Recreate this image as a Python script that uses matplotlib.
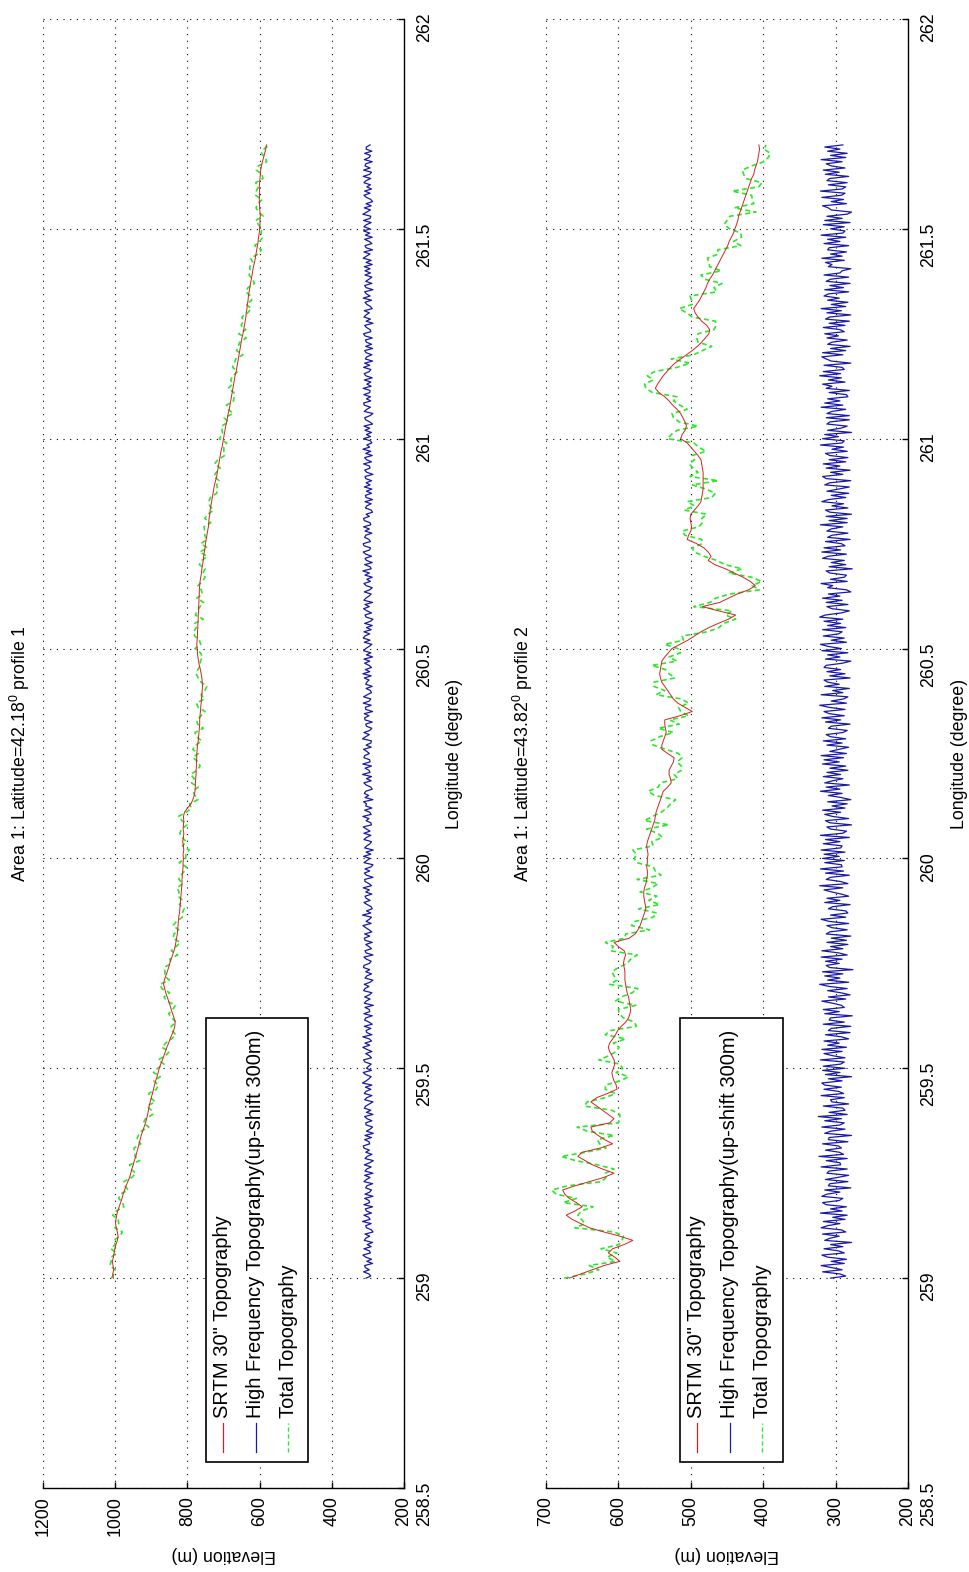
import numpy as np
import matplotlib
matplotlib.use('Agg')
import matplotlib.pyplot as plt
from matplotlib.patches import Rectangle
from matplotlib.lines import Line2D

plt.rcParams['font.family'] = ['Liberation Sans', 'DejaVu Sans']
plt.rcParams['mathtext.fontset'] = 'custom'
plt.rcParams['mathtext.rm'] = 'Liberation Sans'
plt.rcParams['mathtext.default'] = 'regular'

# longitude of the SRTM samples (0.01 deg) and of the high frequency samples (0.005 deg)
lon = np.linspace(259.0, 261.7, 271)
lon_hf = np.linspace(259.0, 261.7, 541)

# profile 1 : SRTM 30" elevation (m)
srtm1 = [1005, 1007, 1004, 1006, 1008, 1005, 1003, 1001, 998, 994,
         992, 994, 997, 999, 998, 996, 993, 989, 985, 981,
         978, 974, 970, 965, 960, 957, 954, 950, 947, 943,
         940, 937, 934, 931, 928, 924, 920, 916, 913, 910,
         908, 906, 903, 900, 897, 894, 891, 888, 884, 881,
         878, 874, 869, 865, 861, 857, 852, 848, 843, 838,
         835, 834, 837, 841, 845, 848, 852, 856, 860, 863,
         866, 864, 860, 856, 852, 849, 845, 841, 837, 834,
         832, 830, 828, 827, 826, 825, 824, 822, 821, 820,
         819, 818, 817, 816, 815, 815, 814, 813, 812, 812,
         811, 812, 810, 811, 813, 811, 810, 812, 811, 810,
         811, 808, 800, 790, 785, 781, 779, 778, 778, 777,
         776, 776, 775, 775, 774, 774, 773, 772, 770, 769,
         768, 767, 766, 766, 765, 764, 763, 762, 761, 760,
         759, 758, 759, 760, 762, 764, 767, 769, 771, 772,
         773, 774, 773, 772, 772, 771, 771, 770, 770, 769,
         769, 768, 768, 767, 767, 766, 765, 763, 761, 760,
         758, 756, 755, 753, 751, 750, 748, 746, 744, 742,
         741, 740, 738, 737, 735, 733, 731, 729, 727, 725,
         722, 719, 717, 715, 713, 711, 709, 707, 704, 702,
         700, 698, 696, 694, 691, 689, 687, 684, 682, 680,
         678, 676, 674, 672, 670, 668, 665, 663, 661, 659,
         657, 655, 653, 651, 649, 646, 644, 642, 640, 638,
         637, 635, 634, 632, 631, 629, 627, 625, 623, 621,
         619, 617, 614, 612, 610, 608, 606, 604, 603, 601,
         600, 599, 599, 598, 599, 600, 600, 601, 600, 600,
         601, 600, 599, 598, 597, 595, 592, 589, 586, 583,
         581]

# profile 1 : high frequency topography (m), before the 300 m shift
hf1 = [5, -8, -3, 12, -4, 7, 9, -13, 3, -10,
       6, 14, -7, -4, 11, -9, 2, -13, 10, 6,
       -5, 8, -14, -10, 4, 6, -9, 15, -6, -2,
       11, -10, 4, 7, -13, 11, -5, -3, 9, -14,
       8, -5, -10, 6, 3, -13, 11, 4, -6, 9,
       -14, 8, 3, -9, 10, -5, -15, 8, 2, -11,
       6, -4, 11, 13, -5, -3, 9, -10, 8, -15,
       4, -6, -13, 5, 6, -11, 3, 9, -14, 4,
       -8, 10, 6, -4, -14, 9, 3, -11, 10, 5,
       -8, 7, -11, 15, 5, -3, -9, 6, 13, -10,
       4, -2, -9, 8, 12, -10, -4, 6, -11, 3,
       14, -5, 8, -10, -4, 14, -11, 3, 5, -8,
       10, -12, -3, 9, 6, -12, 11, -5, -4, 8,
       -15, 10, 5, -6, 9, -4, -11, 12, 8, -3,
       10, -6, -14, 8, 3, -10, 6, -5, 12, 11,
       -4, -9, 4, 11, -14, 5, 8, -10, -3, 6,
       -12, 8, 10, -5, 9, -11, -3, 6, 14, -9,
       5, -4, -10, 15, -8, 4, -12, -9, 2, 11,
       -6, 5, 8, -11, 6, -4, 13, -10, -3, 8,
       9, -14, 4, 10, -5, 8, -9, -14, 11, 3,
       -6, 12, -8, 5, -15, 9, 3, -6, -10, 11,
       4, -8, 11, -6, 4, 13, -10, -8, 5, -3,
       14, -9, -5, 9, -11, 6, 4, 12, -14, 8,
       -2, 10, 6, -12, -8, 5, 11, -9, 4, -10,
       15, -6, -3, 8, -10, 14, -6, -5, 11, 9,
       -4, 3, 12, -9, 5, -8, -10, 15, 6, -4,
       11, -5, -11, 4, 6, -12, 8, 9, -3, 10,
       -13, 6, 7, -9, 13, -4, -8, 12, 2, -10,
       -7, 5, -12, 6, 3, -3, 10, -9, 14, -5,
       7, -10, -3, 9, -5, 11, -13, 4, -8, 12,
       6, -3, -11, 10, -6, 13, 8, -5, 11, -9,
       4, -12, 9, -7, -14, 5, 8, -10, 3, 12,
       -4, 8, -13, 11, 6, -3, -9, 10, -5, -12,
       5, 11, -7, 3, -12, 8, -4, 14, -9, -6,
       9, -12, 4, 8, -10, 6, 13, -5, -7, 11,
       13, -7, -3, 9, 6, -11, 8, -4, 12, -8,
       -6, 10, 12, -4, 5, -13, -9, 7, 3, -9,
       8, -13, 5, 7, -10, 4, -11, 10, -6, 5,
       -10, 6, 8, -14, 3, 9, -6, -4, 12, -10,
       4, 9, -12, 6, -8, 14, -5, 3, -11, -7,
       12, -7, 4, -10, 8, -5, 11, -13, -5, 6,
       9, -6, -14, 10, 3, -7, 10, 12, -8, 4,
       -7, 11, -5, -6, 13, -9, 3, -8, 10, -12,
       6, 10, -4, -8, 12, -5, 9, -13, 7, 3,
       -11, 5, 9, -13, 6, -10, 4, 7, -12, 8,
       12, -8, -6, 4, 9, -14, 5, -7, 11, 5,
       -4, 10, -12, -7, 3, 8, -10, 13, -6, 4,
       9, -14, 5, 9, -11, 6, -3, -11, 8, -7,
       8, -6, 10, -12, 5, -9, 13, 4, -6, 11,
       -13, 5, 8, -11, -4, 9, -12, 7, -5, 12,
       -6, 11, 4, -9, 12, -6, -8, 14, 3, -7,
       10, -9, 5, -13, -8, 4, 11, -6, 9, -10,
       3, -7, 11, 5, -8, 13, -5, -10, 12, -6,
       8, 6, -12, 10, -4, -7, 9, -11, 5, 4,
       -6]

# profile 2 : SRTM 30" elevation (m)
srtm2 = [668, 652, 636, 620, 598, 605, 614, 608, 592, 580,
         598, 620, 640, 652, 664, 672, 660, 650, 658, 668,
         674, 677, 660, 640, 620, 606, 622, 636, 646, 656,
         650, 625, 608, 619, 628, 636, 638, 612, 606, 614,
         622, 630, 638, 630, 615, 602, 603, 606, 608, 609,
         607, 605, 606, 609, 612, 614, 612, 608, 604, 601,
         596, 590, 586, 584, 583, 584, 585, 586, 588, 589,
         590, 591, 591, 591, 592, 593, 592, 590, 592, 600,
         606, 585, 577, 573, 570, 568, 566, 564, 562, 563,
         564, 565, 565, 564, 562, 561, 560, 560, 561, 560,
         560, 559, 560, 561, 560, 558, 556, 554, 552, 550,
         549, 548, 546, 544, 542, 540, 538, 532, 527, 528,
         530, 530, 527, 524, 523, 532, 540, 540, 538, 536,
         534, 535, 536, 536, 515, 498, 508, 518, 524, 528,
         532, 536, 540, 542, 543, 542, 541, 540, 536, 531,
         526, 515, 504, 495, 486, 475, 462, 448, 438, 462,
         484, 460, 448, 436, 420, 411, 418, 428, 440, 452,
         467, 476, 472, 476, 482, 492, 505, 503, 500, 499,
         500, 501, 500, 495, 490, 486, 485, 484, 483, 483,
         483, 483, 483, 484, 485, 486, 490, 495, 500, 505,
         514, 512, 508, 506, 508, 511, 514, 519, 525, 530,
         536, 544, 549, 546, 542, 538, 533, 528, 522, 514,
         506, 498, 491, 485, 480, 475, 474, 478, 485, 490,
         494, 496, 492, 488, 485, 482, 479, 477, 474, 470,
         467, 464, 461, 458, 455, 452, 449, 447, 444, 441,
         439, 437, 435, 434, 432, 430, 428, 426, 424, 422,
         420, 418, 416, 413, 412, 410, 408, 407, 406, 405,
         406]

# profile 2 : high frequency topography (m), before the 300 m shift
hf2 = [7, -14, -6, 18, -9, 5, 20, -12, 6, -15,
       11, 19, -12, -4, 16, -10, 7, -22, 15, 8,
       -5, 18, -14, -8, 20, 11, -6, 17, -13, 4,
       -16, 21, -9, 7, -15, 13, 18, -5, -10, 19,
       12, -6, 15, -21, 10, 8, -17, 14, -3, -18,
       12, 9, -16, 20, -7, -6, 13, -16, 23, -11,
       -5, 14, -8, -4, 18, -17, 10, 9, -22, 15,
       7, -13, 19, -6, -12, 15, -8, 24, -16, 9,
       -13, -10, 17, -18, 5, 7, -12, 20, -11, -4,
       16, -8, 15, 19, -9, 10, -22, 14, -6, 18,
       -13, 17, -7, -12, 21, -13, 4, 16, -9, 19,
       -15, 11, -5, 16, -18, -8, 14, -20, 10, 6,
       -21, 17, -12, 9, 7, -23, 15, -5, 17, -12,
       -8, 4, 19, -14, 10, -20, -7, 11, -16, 9,
       22, -18, 11, -6, 15, -10, 18, -24, 8, 13,
       -5, 14, -9, 20, -16, -4, 19, -10, 7, -17,
       12, -15, 6, -21, 13, 8, -16, 5, 12, -18,
       9, 20, -14, 7, -17, -14, 10, 4, -20, 15,
       -6, 12, -18, -8, 5, 16, -10, 22, -17, -7,
       13, 7, -19, 14, -11, 21, -9, -8, 15, -12,
       18, -5, 16, -13, 20, -7, -9, 17, -6, 14,
       -19, 21, -10, -15, 7, 12, -22, 8, 14, -18,
       4, 15, -7, 18, -13, 5, -16, 11, -21, -8,
       10, -9, 21, -6, 13, -19, 15, 4, -10, 17,
       -7, 12, -17, 8, -14, 18, -5, 16, -11, 20,
       -15, 8, -5, -18, 12, -9, 17, -14, 7, 13,
       -10, -16, 10, 6, -20, 14, -7, 19, -12, 9,
       16, -13, 9, 22, -15, 6, -11, -17, 20, -10,
       4, -19, 15, -5, 11, 16, -20, 8, -13, 12,
       -7, 16, 13, -9, -21, 14, -6, 11, -17, 19,
       -8, 10, 21, -15, 6, -12, 17, -4, -9, 18,
       -14, 11, -7, 16, -10, 22, 14, -8, -19, 5,
       12, -17, 13, -9, 18, -6, 10, -21, -15, 11,
       4, 20, -16, 7, -12, -15, 8, 13, -23, 9,
       -14, 6, -12, 18, 10, -15, 19, -7, 16, -13,
       -8, 14, -20, 11, 5, -17, 12, 6, -10, 21,
       -16, 9, -16, 13, -22, 8, 14, -17, 5, -11,
       19, 10, -14, 6, -18, 12, -4, -19, 15, 8,
       -21, 13, 18, -10, 7, -20, 13, -6, 17, -14,
       9, -17, 8, 14, -16, 5, -11, 21, -9, -12,
       18, -4, 15, -22, 11, -7, -16, 12, 8, -19,
       13, -19, 12, 5, -14, 20, -10, 15, -6, 11,
       -17, -15, 9, -19, 13, 5, 18, -13, 10, -8,
       22, -7, 17, -12, -9, 16, -21, 6, 13, 19,
       -10, 18, -14, 7, -20, 11, 5, -16, 12, -4,
       15, -12, -6, 17, -13, 9, -19, 14, 8, -21,
       12, -8, 20, -14, 6, -17, 11, -5, 16, 10,
       -18, 15, -11, 8, -20, 13, 7, -18, 16, -6,
       -9, -21, 10, 5, 14, -12, 19, -9, 7, -15,
       11, 9, -18, 16, -6, 11, -14, 20, -10, -13,
       7, -12, 17, -20, 15, -9, 12, -16, -22, 6,
       10, 18, -15, 6, -11, 19, -8, -13, 21, -9,
       -14, 10, -16, 12, 8, -18, 14, -5, 17, -13,
       6, 13, -9, 20, -14, 7, -16, 11, -6, 15,
       -10]

SHIFT = 300
lon_ticks = [258.5, 259, 259.5, 260, 260.5, 261, 261.5, 262]
elev_ticks1 = [200, 400, 600, 800, 1000, 1200]
elev_ticks2 = [200, 300, 400, 500, 600, 700]
titles = ['Area 1: Latitude=42.18$^{0}$ profile 1',
          'Area 1: Latitude=43.82$^{0}$ profile 2']
legend_labels = ['SRTM 30" Topography',
                 'High Frequency Topography(up-shift 300m)',
                 'Total Topography']

RED = '#d42222'
BLUE = '#1a1aa6'
GREEN = '#2ee62e'
FS = 12.8

W, H = 969, 1572
fig = plt.figure(figsize=(W / 100, H / 100), dpi=100)


def make_axes(left, right, top, bottom):
    # pixel box -> figure fraction
    return fig.add_axes([left / W, 1 - bottom / H, (right - left) / W, (bottom - top) / H])


def draw_panel(ax, srtm, hf, elev_ticks, title, leg_box):
    srtm = np.array(srtm)
    hf = np.array(hf)
    total = srtm + hf[::2]   # total = SRTM + high frequency part

    ax.plot(total, lon, color=GREEN, lw=1.2, ls=(0, (3, 2)), zorder=3)
    ax.plot(srtm, lon, color=RED, lw=0.7, zorder=4)
    ax.plot(hf + SHIFT, lon_hf, color=BLUE, lw=0.9, zorder=3)

    ax.set_xlim(max(elev_ticks), min(elev_ticks))
    ax.set_ylim(lon_ticks[0], lon_ticks[-1])
    ax.set_xticks(elev_ticks)
    ax.set_xticklabels([str(t) for t in elev_ticks], rotation=90, fontsize=FS)
    ax.set_yticks(lon_ticks)
    ax.set_yticklabels(['%g' % t for t in lon_ticks], rotation=90, fontsize=FS)
    for lab in ax.get_yticklabels():
        lab.set_va('center')
        lab.set_ha('left')
    ax.yaxis.tick_right()
    ax.tick_params(axis='both', direction='in', length=4, width=1, colors='black')
    ax.tick_params(axis='x', pad=6)
    ax.tick_params(axis='y', pad=9)
    for side in ['left', 'top']:
        ax.spines[side].set_visible(False)
    for side in ['right', 'bottom']:
        ax.spines[side].set_linewidth(1.0)

    ax.grid(True, color='black', ls=(0, (1, 5)), lw=0.8)

    ax.text(-0.064, 0.5, title, rotation=90, fontsize=FS, ha='center', va='center',
            transform=ax.transAxes)
    ax.text(1.141, 0.5, 'Longitude (degree)', rotation=90, fontsize=FS,
            ha='center', va='center', transform=ax.transAxes)
    ax.text(0.5, -0.0456, 'Elevation (m)', rotation=180, fontsize=FS,
            ha='center', va='center', transform=ax.transAxes)

    # legend, drawn rotated with the rest of the page
    l, r, t, b = leg_box
    fig.add_artist(Rectangle((l / W, 1 - b / H), (r - l) / W, (b - t) / H,
                             transform=fig.transFigure, facecolor='white',
                             edgecolor='black', lw=1.2, zorder=10))
    styles = [dict(color=RED, lw=0.9), dict(color=BLUE, lw=0.9),
              dict(color=GREEN, lw=1.0, ls=(0, (3, 2)))]
    for i, (lab, st) in enumerate(zip(legend_labels, styles)):
        xe = l + 17 + 32.5 * i
        fig.add_artist(Line2D([xe / W, xe / W], [1 - (b - 10) / H, 1 - (b - 39) / H],
                              transform=fig.transFigure, zorder=11, **st))
        fig.text(xe / W, 1 - (b - 44) / H, lab, rotation=90, fontsize=14.5,
                 ha='center', va='bottom', zorder=11)


ax1 = make_axes(43, 404, 19, 1488)
draw_panel(ax1, srtm1, hf1, elev_ticks1, titles[0], (206, 308, 1018, 1462))
ax2 = make_axes(546, 908, 19, 1488)
draw_panel(ax2, srtm2, hf2, elev_ticks2, titles[1], (680, 783, 1018, 1462))

fig.savefig('out.png', dpi=100)
